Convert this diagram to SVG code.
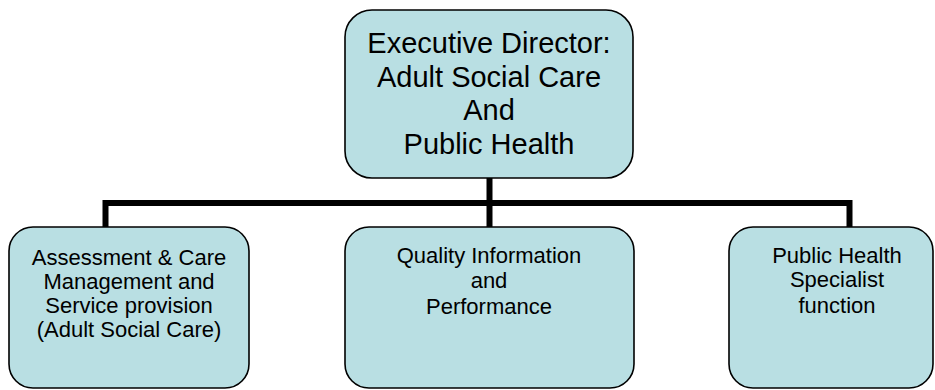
<svg xmlns="http://www.w3.org/2000/svg" width="935" height="390" viewBox="0 0 935 390">
<style>
.box{fill:#B9DFE3;stroke:#000;stroke-width:1.6}
.conn{fill:none;stroke:#000;stroke-width:6;stroke-linecap:butt;stroke-linejoin:miter}
text{font-family:"Liberation Sans",Arial,sans-serif;fill:#000;text-anchor:middle}
.big{font-size:29px}
.sm{font-size:22px}
</style>
<rect width="935" height="390" fill="#fff"/>
<g id="connectors">
<path class="conn" d="M489.5 178 V203"/>
<path class="conn" d="M105.5 227 V203 H849.5 V227"/>
<path class="conn" d="M489.5 203 V227"/>
</g>
<g id="exec">
<rect class="box" x="345" y="10" width="288" height="168" rx="27"/>
<text class="big"><tspan x="489" y="53">Executive Director:</tspan><tspan x="489" y="87">Adult Social Care</tspan><tspan x="489" y="120">And</tspan><tspan x="489" y="154">Public Health</tspan></text>
</g>
<g id="assessment">
<rect class="box" x="9" y="227" width="240" height="161" rx="24"/>
<text class="sm"><tspan x="129" y="265">Assessment &amp; Care</tspan><tspan x="129" y="289">Management and</tspan><tspan x="129" y="313">Service provision</tspan><tspan x="129" y="337">(Adult Social Care)</tspan></text>
</g>
<g id="quality">
<rect class="box" x="345" y="227" width="289" height="161" rx="24"/>
<text class="sm"><tspan x="489" y="263">Quality Information</tspan><tspan x="489" y="288">and</tspan><tspan x="489" y="314">Performance</tspan></text>
</g>
<g id="publichealth">
<rect class="box" x="729" y="227" width="204" height="161" rx="24"/>
<text class="sm"><tspan x="837" y="263">Public Health</tspan><tspan x="837" y="287">Specialist</tspan><tspan x="837" y="313">function</tspan></text>
</g>
</svg>
